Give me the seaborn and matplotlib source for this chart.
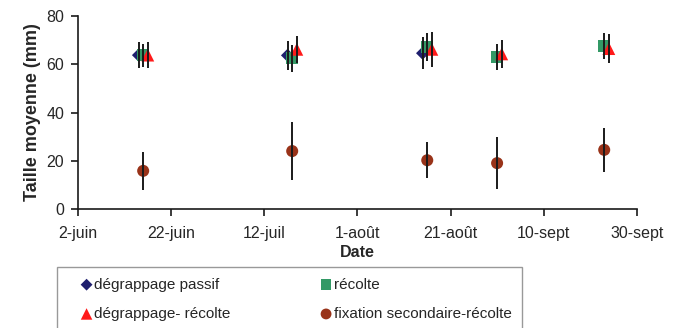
import pandas as pd
import numpy as np
import matplotlib.pyplot as plt
import matplotlib.dates as mdates
import seaborn as sns

# Series data
passif_dates = ['2008-06-15', '2008-07-17', '2008-08-15']
passif_taille = [63.8, 63.7, 64.6]
passif_err = [5.3, 6.0, 6.6]

recolte_dates = ['2008-06-16', '2008-07-18', '2008-08-16', '2008-08-31', '2008-09-23']
recolte_taille = [63.8, 62.5, 67.2, 63.0, 67.5]
recolte_err = [4.8, 5.5, 5.8, 5.3, 5.4]

degr_dates = ['2008-06-17', '2008-07-19', '2008-08-17', '2008-09-01', '2008-09-24']
degr_taille = [63.8, 66.2, 66.2, 64.3, 66.5]
degr_err = [5.3, 5.7, 7.2, 5.7, 6.0]

fix_dates = ['2008-06-16', '2008-07-18', '2008-08-16', '2008-08-31', '2008-09-23']
fix_taille = [15.8, 24.0, 20.2, 19.0, 24.5]
fix_err = [7.9, 12.0, 7.4, 10.9, 9.0]

tick_dates = ['2008-06-02', '2008-06-22', '2008-07-12', '2008-08-01',
              '2008-08-21', '2008-09-10', '2008-09-30']
tick_labels = ['2-juin', '22-juin', '12-juil', '1-août', '21-août', '10-sept', '30-sept']

series = [
    ('dégrappage passif', passif_dates, passif_taille, passif_err, 'D', '#1f1f6e', 45),
    ('récolte', recolte_dates, recolte_taille, recolte_err, 's', '#339966', 75),
    ('dégrappage- récolte', degr_dates, degr_taille, degr_err, '^', '#ff1a1a', 85),
    ('fixation secondaire-récolte', fix_dates, fix_taille, fix_err, 'o', '#993319', 75),
]

sns.set_style('ticks')
plt.rcParams['font.family'] = ['Liberation Sans', 'DejaVu Sans']

fig = plt.figure(figsize=(6.84, 3.28), dpi=100)
ax = fig.add_axes([0.114, 0.363, 0.817, 0.588])

for name, dates, taille, err, marker, color, size in series:
    df = pd.DataFrame({'date': pd.to_datetime(dates), 'taille': taille, 'err': err})
    sns.scatterplot(data=df, x='date', y='taille', marker=marker, color=color,
                    s=size, edgecolor='none', linewidth=0, label=name, ax=ax, zorder=2)
    ax.errorbar(df['date'], df['taille'], yerr=df['err'], fmt='none',
                ecolor='#1a1a1a', elinewidth=1.4, capsize=0, zorder=3)

ticks = pd.to_datetime(tick_dates)
ax.set_xlim(ticks[0], ticks[-1])
ax.set_xticks(ticks)
ax.set_xticklabels(tick_labels)
ax.set_ylim(0, 80)
ax.set_yticks([0, 20, 40, 60, 80])

sns.despine(ax=ax)
for s in ['left', 'bottom']:
    ax.spines[s].set_color('#1a1a1a')
    ax.spines[s].set_linewidth(1.2)
ax.tick_params(axis='both', labelsize=11.5, length=5, width=1.2, color='#1a1a1a', pad=5)
ax.tick_params(axis='x', pad=7)

ax.set_xlabel('Date', fontsize=11.5, fontweight='bold', labelpad=3)
ax.set_ylabel('Taille moyenne (mm)', fontsize=13, fontweight='bold', labelpad=4)

# Legend filled row by row like the original
handles, labels = ax.get_legend_handles_labels()
ax.get_legend().remove()
order = [0, 2, 1, 3]
leg = fig.legend([handles[i] for i in order], [labels[i] for i in order],
                 loc='upper left', bbox_to_anchor=(0.083, 0.186),
                 ncol=2, fontsize=11, frameon=True, fancybox=False, edgecolor='#808080',
                 handlelength=2.5, handletextpad=-0.75, columnspacing=5.0,
                 labelspacing=1.0, borderpad=0.7, borderaxespad=0, markerscale=0.9)
leg.get_frame().set_linewidth(1.0)

fig.savefig('out.png', dpi=100)
